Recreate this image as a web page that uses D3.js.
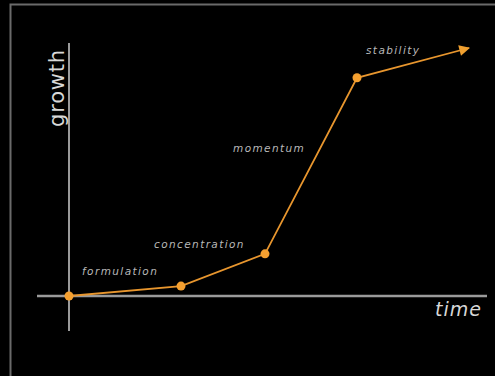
<!DOCTYPE html>
<html>
<head>
<meta charset="utf-8">
<script src="https://cdn.jsdelivr.net/npm/d3@7"></script>
<style>
  html, body { margin: 0; padding: 0; background: #000; }
  svg { display: block; }
</style>
</head>
<body>
<div id="chart"></div>
<script>
// stages of growth over time
var stages = ['', 'formulation', 'concentration', 'momentum', 'stability']
var timeVals = [0, 28, 49, 72, 100]
var growthVals = [0, 4, 17, 88, 100]

var width = 495
var height = 376

var svg = d3.select('#chart')
    .append('svg')
    .attr('width', width)
    .attr('height', height)

svg.append('rect')
    .attr('width', width)
    .attr('height', height)
    .attr('fill', '#000')

// frame
svg.append('path')
    .attr('d', 'M10.5,' + height + ' V4.5 H' + width)
    .attr('fill', 'none')
    .attr('stroke', '#6a6a6a')
    .attr('stroke-width', 2)

var x = d3.scaleLinear().domain([0, 100]).range([69, 469])
var y = d3.scaleLinear().domain([0, 100]).range([296, 48])

// axes
svg.append('line')
    .attr('x1', x(0)).attr('x2', x(0))
    .attr('y1', 43).attr('y2', 331)
    .attr('stroke', '#9a9a9a')
    .attr('stroke-width', 2)

svg.append('line')
    .attr('x1', 37).attr('x2', 487)
    .attr('y1', y(0)).attr('y2', y(0))
    .attr('stroke', '#9a9a9a')
    .attr('stroke-width', 2.5)

var pts = timeVals.map(function(t, i) {
    return { t: t, g: growthVals[i], label: stages[i] }
})

var line = d3.line()
    .x(function(d) { return x(d.t) })
    .y(function(d) { return y(d.g) })

svg.append('defs').append('marker')
    .attr('id', 'arrow')
    .attr('viewBox', '0 0 10 10')
    .attr('refX', 9)
    .attr('refY', 5)
    .attr('markerWidth', 7)
    .attr('markerHeight', 6)
    .attr('markerUnits', 'strokeWidth')
    .attr('orient', 'auto')
    .append('path')
    .attr('d', 'M0,0 L10,5 L0,10 z')
    .attr('fill', '#f0a030')

svg.append('path')
    .datum(pts)
    .attr('d', line)
    .attr('fill', 'none')
    .attr('stroke', '#e8962e')
    .attr('stroke-width', 1.8)
    .attr('marker-end', 'url(#arrow)')

svg.selectAll('circle')
    .data(pts.slice(0, 4))
    .enter()
    .append('circle')
    .attr('cx', function(d) { return x(d.t) })
    .attr('cy', function(d) { return y(d.g) })
    .attr('r', 4.5)
    .attr('fill', '#f5a030')

// stage labels, placed beside the segment leading into each one
var labelDx = [0, 13, -27, -32, 9]
var labelDy = [0, -11, -6, 74, 6]

svg.selectAll('text.stage')
    .data(pts)
    .enter()
    .append('text')
    .attr('class', 'stage')
    .attr('x', function(d, i) { return i == 0 ? 0 : x(pts[i - 1].t) + labelDx[i] })
    .attr('y', function(d, i) { return i == 0 ? 0 : y(d.g) + labelDy[i] })
    .style('font-family', 'DejaVu Sans, sans-serif')
    .style('font-style', 'italic')
    .style('font-size', '10.5px')
    .style('letter-spacing', '1.4px')
    .style('fill', '#b8b8b8')
    .text(function(d) { return d.label })

svg.append('text')
    .attr('transform', 'translate(64,88) rotate(-90)')
    .attr('text-anchor', 'middle')
    .style('font-family', 'DejaVu Sans, sans-serif')
    .style('font-size', '21px')
    .style('letter-spacing', '0.8px')
    .style('fill', '#d8d8d8')
    .text('growth')

svg.append('text')
    .attr('x', 482)
    .attr('y', 316)
    .attr('text-anchor', 'end')
    .style('font-family', 'DejaVu Sans, sans-serif')
    .style('font-style', 'italic')
    .style('font-size', '19px')
    .style('letter-spacing', '1px')
    .style('fill', '#d8d8d8')
    .text('time')
</script>
</body>
</html>
